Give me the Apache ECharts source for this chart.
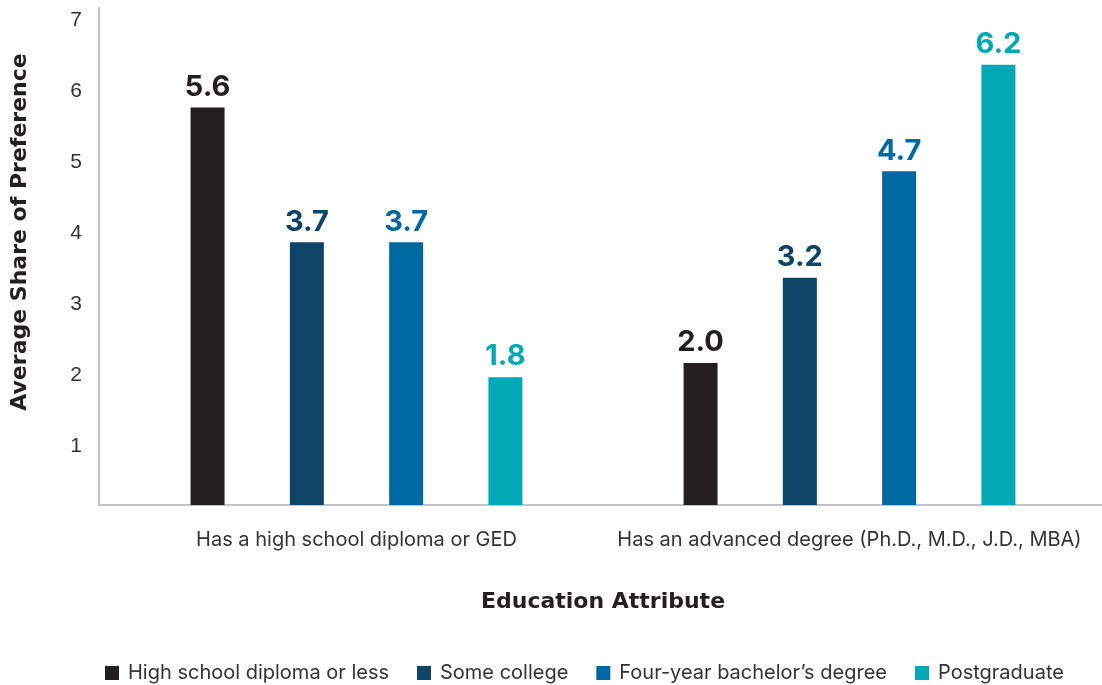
<!DOCTYPE html>
<html>
<head>
<meta charset="utf-8">
<title>Average Share of Preference by Education Attribute</title>
<script src="https://cdn.jsdelivr.net/npm/echarts@6/dist/echarts.min.js"></script>
<style>
  html, body { margin: 0; padding: 0; background: #ffffff; }
  #chart { width: 1102px; height: 685px; }
</style>
</head>
<body>
<div id="chart"></div>
<script>
// Education attributes shown on the horizontal axis
const categories = [
  'Has a high school diploma or GED',
  'Has an advanced degree (Ph.D., M.D., J.D., MBA)'
];

// Respondent education groups (legend order)
const groupNames = [
  'High school diploma or less',
  'Some college',
  'Four-year bachelor\u2019s degree',
  'Postgraduate'
];

// Average share of preference for each group, per attribute
const highSchoolOrLess = [5.6, 2.0];
const someCollege      = [3.7, 3.2];
const fourYearDegree   = [3.7, 4.7];
const postgraduate     = [1.8, 6.2];

// Value-axis ticks
const yTicks = [0, 1, 2, 3, 4, 5, 6, 7];

const groupValues = [highSchoolOrLess, someCollege, fourYearDegree, postgraduate];
const groupColors = ['#231f20', '#0e4467', '#0069a1', '#00a9b5'];

const chart = echarts.init(document.getElementById('chart'), null, { renderer: 'canvas' });

const series = groupNames.map((name, i) => ({
  name: name,
  type: 'bar',
  xAxisIndex: 0,
  yAxisIndex: 0,
  data: groupValues[i],
  barWidth: 34,
  barGap: '192%',
  itemStyle: { color: groupColors[i] },
  label: {
    show: true,
    position: 'top',
    distance: 6,
    formatter: p => p.value.toFixed(1),
    color: groupColors[i],
    fontFamily: 'Inter',
    fontWeight: 'bold',
    fontSize: 29
  },
  emphasis: { disabled: true }
}));

const option = {
  backgroundColor: '#ffffff',
  animation: false,
  grid: [
    { left: 110, right: 6, top: 8, bottom: 180 },
    // full-width baseline grid
    { left: 99, right: 0, top: 8, bottom: 180 }
  ],
  xAxis: [
    {
      type: 'category',
      gridIndex: 0,
      data: categories,
      axisLine: { show: false },
      axisTick: { show: false },
      axisLabel: {
        interval: 0,
        margin: 25,
        color: '#333333',
        fontFamily: 'Inter',
        fontSize: 20
      },
      name: 'Education Attribute',
      nameLocation: 'middle',
      nameGap: 86,
      nameTextStyle: {
        color: '#231f20',
        fontFamily: 'DejaVu Sans',
        fontWeight: 'bold',
        fontSize: 22
      }
    },
    {
      type: 'category',
      gridIndex: 1,
      data: [''],
      axisLine: { show: true, lineStyle: { color: '#c3c2c8', width: 2 } },
      axisTick: { show: false },
      axisLabel: { show: false }
    }
  ],
  yAxis: [
    {
      type: 'value',
      gridIndex: 0,
      min: yTicks[0],
      max: yTicks[yTicks.length - 1],
      interval: 1,
      offset: 11,
      axisLine: { show: true, lineStyle: { color: '#c3c2c8', width: 2 } },
      axisTick: { show: false },
      splitLine: { show: false },
      axisLabel: {
        showMinLabel: false,
        margin: 17,
        color: '#333333',
        fontFamily: 'Liberation Sans',
        fontSize: 21,
        verticalAlign: 'top',
        lineHeight: 24
      }
    },
    {
      type: 'value',
      gridIndex: 1,
      show: false
    }
  ],
  legend: {
    data: groupNames,
    left: 100,
    top: 658,
    icon: 'rect',
    itemWidth: 14,
    itemHeight: 14,
    itemGap: 28,
    textStyle: {
      color: '#333333',
      fontFamily: 'Inter',
      fontSize: 20,
      padding: [0, 0, 0, 4]
    },
    selectedMode: false
  },
  graphic: [
    {
      type: 'text',
      rotation: Math.PI / 2,
      x: 20,
      y: 232,
      style: {
        text: 'Average Share of Preference',
        fill: '#231f20',
        font: 'bold 22px "DejaVu Sans"',
        align: 'center',
        verticalAlign: 'middle'
      }
    }
  ],
  series: series
};

chart.setOption(option);
</script>
</body>
</html>
